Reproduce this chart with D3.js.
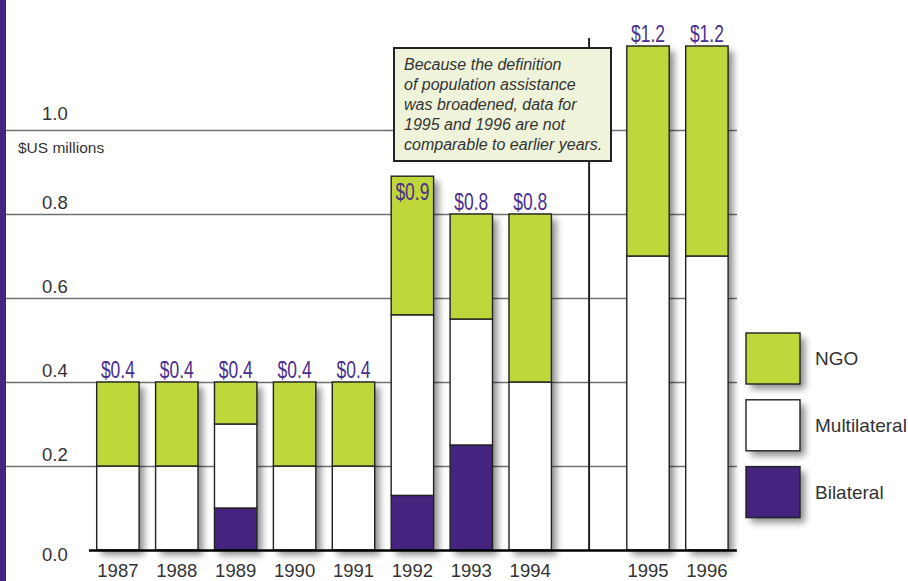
<!DOCTYPE html>
<html><head><meta charset="utf-8">
<script src="https://cdn.jsdelivr.net/npm/d3@7"></script>
<style>body{margin:0;background:#fff;overflow:hidden}</style>
</head><body><svg id="c" width="908" height="581"></svg>
<script>
// ---- data ----
const years = ["1987","1988","1989","1990","1991","1992","1993","1994","1995","1996"];
const bilateral    = [0, 0, 0.10, 0, 0, 0.13, 0.25, 0, 0, 0];
const multilateral = [0.2, 0.2, 0.20, 0.2, 0.2, 0.43, 0.30, 0.4, 0.7, 0.7];
const ngo          = [0.2, 0.2, 0.10, 0.2, 0.2, 0.33, 0.25, 0.4, 0.5, 0.5];
const totalLabels  = ["$0.4","$0.4","$0.4","$0.4","$0.4","$0.9","$0.8","$0.8","$1.2","$1.2"];
const yTicks = [0, 0.2, 0.4, 0.6, 0.8, 1.0];
const seriesKeys = ["bilateral","multilateral","ngo"];
const legendNames = ["NGO","Multilateral","Bilateral"];
const legendKeys = ["ngo","multilateral","bilateral"];
const yUnit = "$US millions";
const noteLines = ["Because the definition","of population assistance","was broadened, data for","1995 and 1996 are not","comparable to earlier years."];
const breakAfter = "1994";

// ---- setup ----
const colors = {ngo:"#bfd73b", multilateral:"#ffffff", bilateral:"#44247f"};
const svg = d3.select("#c");
const W = 908, H = 581;
const FONT = "Liberation Sans, Arial, sans-serif";
const defs = svg.append("defs");
const f = defs.append("filter").attr("id","sh").attr("x","-30%").attr("y","-30%").attr("width","180%").attr("height","180%");
f.append("feGaussianBlur").attr("in","SourceAlpha").attr("stdDeviation",3.5);
f.append("feOffset").attr("dx",5).attr("dy",5).attr("result","o");
f.append("feComponentTransfer").append("feFuncA").attr("type","linear").attr("slope",0.45);

const table = years.map((yr,i)=>({year:yr, bilateral:bilateral[i], multilateral:multilateral[i], ngo:ngo[i], label:totalLabels[i]}));
const domain = [];
years.forEach(yr=>{ domain.push(yr); if(yr===breakAfter) domain.push("gap"); });

const x = d3.scaleBand().domain(domain).range([88.45, 736.35]).paddingInner(0.28).paddingOuter(0.14);
const y = d3.scaleLinear().domain([0,1]).range([550,130]);

// left purple strip
svg.append("rect").attr("x",0).attr("y",0).attr("width",6).attr("height",H).attr("fill","#44247f");

// gridlines + y labels via axis
const gridRight = 737, gridLeft = 6;
const yAxis = svg.append("g").attr("transform",`translate(${gridRight},0)`)
  .call(d3.axisLeft(y).tickValues(yTicks).tickSize(gridRight-gridLeft).tickFormat(d3.format(".1f")));
yAxis.select(".domain").remove();
yAxis.selectAll(".tick line").attr("stroke","#707070").attr("stroke-width",1.6)
  .filter(d=>d===0).remove();
yAxis.selectAll(".tick text").attr("x",-(gridRight-42)).attr("text-anchor","start")
  .attr("dy", d=> d===0 ? "10" : (d===1 ? "-10.5" : "-5.5"))
  .attr("font-family",FONT).attr("font-size",18.5).attr("fill","#333");

svg.append("text").attr("x",18).attr("y",153).text(yUnit)
  .attr("font-family",FONT).attr("font-size",15.5).attr("fill","#333");

// divider
const xg = x("gap") + x.bandwidth()/2;
svg.append("line").attr("x1",xg).attr("x2",xg).attr("y1",38).attr("y2",y(0)).attr("stroke","#222").attr("stroke-width",2);

// bars
const stack = d3.stack().keys(seriesKeys)(table);
const total = d => d.bilateral + d.multilateral + d.ngo;
svg.append("g").selectAll("rect").data(table).join("rect")
  .attr("x",d=>x(d.year)).attr("width",x.bandwidth())
  .attr("y",d=>y(total(d))).attr("height",d=>y(0)-y(total(d)))
  .attr("fill","#000").attr("filter","url(#sh)");
svg.append("g").selectAll("g").data(stack).join("g")
  .attr("fill",s=>colors[s.key])
  .selectAll("rect").data(s=>s.filter(p=>p[1]-p[0]>0)).join("rect")
  .attr("x",p=>x(p.data.year)).attr("width",x.bandwidth())
  .attr("y",p=>y(p[1])).attr("height",p=>y(p[0])-y(p[1]))
  .attr("stroke","#222").attr("stroke-width",1.4);

// note box
const box = {x:394, y:48, w:217, h:113};
svg.append("rect").attr("x",box.x).attr("y",box.y).attr("width",box.w).attr("height",box.h)
  .attr("fill","#eef3da").attr("stroke","#222").attr("stroke-width",2);
svg.append("g").selectAll("text").data(noteLines).join("text")
  .attr("x",404).attr("y",(d,i)=>70+i*20).text(d=>d)
  .attr("font-family",FONT).attr("font-style","italic")
  .attr("font-size",16).attr("fill","#333");

// value labels (condensed)
svg.append("g").selectAll("text").data(table).join("text")
  .attr("transform",d=>{
    const top = y(total(d));
    const cx = x(d.year)+x.bandwidth()/2;
    const above = top-4;
    const clash = cx > box.x-20 && cx < box.x+box.w+20 && above-17 < box.y+box.h;
    return `translate(${cx},${clash ? top+24 : above}) scale(0.76,1)`;
  })
  .attr("text-anchor","middle").text(d=>d.label)
  .attr("font-family",FONT).attr("font-size",23)
  .attr("fill","#4b2f8f");

// x axis
const xAxis = svg.append("g").attr("transform",`translate(0,${y(0)})`)
  .call(d3.axisBottom(x).tickValues(years).tickSize(0).tickSizeOuter(0).tickPadding(14));
xAxis.select(".domain").attr("stroke","#000").attr("stroke-width",2.5);
xAxis.selectAll(".tick text").attr("font-family",FONT).attr("font-size",18.5).attr("fill","#333");

// legend
const lg = svg.append("g").selectAll("g").data(legendKeys).join("g")
  .attr("transform",(d,i)=>`translate(746,${333+i*66.8})`);
lg.append("rect").attr("width",54).attr("height",51).attr("fill","#000").attr("filter","url(#sh)");
lg.append("rect").attr("width",54).attr("height",51).attr("fill",d=>colors[d]).attr("stroke","#222").attr("stroke-width",1.4);
lg.append("text").attr("x",69).attr("y",32).text((d,i)=>legendNames[i])
  .attr("font-family",FONT).attr("font-size",19).attr("fill","#333");
</script>
</body></html>
